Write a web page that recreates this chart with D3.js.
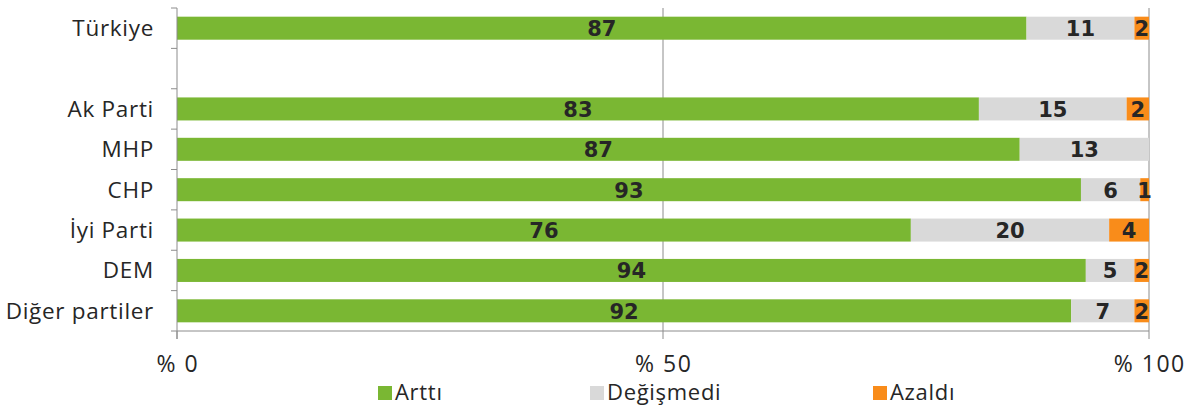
<!DOCTYPE html>
<html>
<head>
<meta charset="utf-8">
<script src="https://cdn.jsdelivr.net/npm/d3@7"></script>
<style>
  body { margin: 0; background: #fff; }
  svg { display: block; }
</style>
</head>
<body>
<div id="chart"></div>
<script>
// Chart data (percent). The empty category is the spacer row under Türkiye.
var categories = ["Türkiye", "", "Ak Parti", "MHP", "CHP", "İyi Parti", "DEM", "Diğer partiler"];
var artti      = [87.4, null, 82.5, 86.7, 93.0, 75.5, 93.5, 92.0];
var degismedi  = [11.1, null, 15.2, 13.3, 6.1, 20.4, 5.0, 6.5];
var azaldi     = [1.5, null, 2.3, 0, 0.9, 4.1, 1.5, 1.5];

var seriesNames = ["Arttı", "Değişmedi", "Azaldı"];
var seriesColors = ["#7ab733", "#d9d9d9", "#f98c1a"];
var xTicks = [0, 50, 100];

var width = 1204, height = 407;
var plot = { left: 177, right: 1149, top: 8, bottom: 331 };
var labelFont = "'Open Sans', sans-serif";

var svg = d3.select("#chart").append("svg")
    .attr("width", width)
    .attr("height", height);

var x = d3.scaleLinear().domain([0, 100]).range([plot.left, plot.right]);

var y = d3.scaleBand()
    .domain(categories.map(function (d, i) { return i; }))
    .range([plot.top, plot.bottom])
    .paddingInner(0.43)
    .paddingOuter(0.215);

// stack the three series per row
var rows = categories.map(function (c, i) {
    return { name: c, i: i, values: [artti[i], degismedi[i], azaldi[i]] };
});
var stack = d3.stack().keys([0, 1, 2]).value(function (d, k) { return d.values[k] || 0; });
var layers = stack(rows.filter(function (r) { return r.values[0] !== null; }));

// vertical gridlines behind bars
svg.append("g").selectAll("line")
    .data(xTicks.filter(function (t) { return t > 0; }))
    .enter().append("line")
    .attr("x1", function (d) { return x(d); })
    .attr("x2", function (d) { return x(d); })
    .attr("y1", plot.top)
    .attr("y2", plot.bottom)
    .attr("stroke", "#8c8c8c")
    .attr("stroke-width", 1);

// bars
var layer = svg.append("g").selectAll("g")
    .data(layers)
    .enter().append("g")
    .attr("fill", function (d, k) { return seriesColors[k]; });

layer.selectAll("rect")
    .data(function (d) { return d; })
    .enter().append("rect")
    .attr("x", function (d) { return x(d[0]); })
    .attr("y", function (d) { return y(d.data.i); })
    .attr("width", function (d) { return x(d[1]) - x(d[0]); })
    .attr("height", y.bandwidth());

// value labels
layer.selectAll("text")
    .data(function (d) { return d.filter(function (s) { return s[1] - s[0] > 0; }); })
    .enter().append("text")
    .attr("x", function (d) { return (x(d[0]) + x(d[1])) / 2; })
    .attr("y", function (d) { return y(d.data.i) + y.bandwidth() / 2 + 8; })
    .attr("text-anchor", "middle")
    .style("font-family", "'DejaVu Sans', sans-serif")
    .style("font-weight", "bold")
    .style("font-size", "21px")
    .style("fill", "#262626")
    .text(function (d) { return Math.round(d[1] - d[0]); });

// left axis: line plus ticks at the row boundaries
var axisColor = "#8c8c8c";
svg.append("line")
    .attr("x1", plot.left).attr("x2", plot.left)
    .attr("y1", plot.top).attr("y2", plot.bottom + 8)
    .attr("stroke", axisColor);

svg.append("g").selectAll("line")
    .data(d3.range(categories.length + 1))
    .enter().append("line")
    .attr("x1", plot.left - 6).attr("x2", plot.left)
    .attr("y1", function (i) { return plot.top + i * y.step(); })
    .attr("y2", function (i) { return plot.top + i * y.step(); })
    .attr("stroke", axisColor);

svg.append("g").selectAll("text")
    .data(rows)
    .enter().append("text")
    .attr("x", 154)
    .attr("y", function (d) { return y(d.i) + y.bandwidth() / 2 + 8; })
    .attr("text-anchor", "end")
    .style("font-family", labelFont)
    .style("font-size", "22.5px")
    .style("letter-spacing", "0.7px")
    .style("fill", "#262626")
    .text(function (d) { return d.name; });

// bottom axis
svg.append("line")
    .attr("x1", plot.left).attr("x2", plot.right)
    .attr("y1", plot.bottom).attr("y2", plot.bottom)
    .attr("stroke", axisColor);

svg.append("g").selectAll("line")
    .data(xTicks)
    .enter().append("line")
    .attr("x1", function (d) { return x(d); })
    .attr("x2", function (d) { return x(d); })
    .attr("y1", plot.bottom).attr("y2", plot.bottom + 8)
    .attr("stroke", axisColor);

svg.append("g").selectAll("text")
    .data(xTicks)
    .enter().append("text")
    .attr("x", function (d) { return x(d) + 0.75; })
    .attr("y", 372)
    .attr("text-anchor", "middle")
    .style("font-family", labelFont)
    .style("font-size", "23px")
    .style("letter-spacing", "1.5px")
    .style("fill", "#262626")
    .text(function (d) { return "% " + d; });

// legend
var legendX = [378, 590, 873];
var legend = svg.append("g").selectAll("g")
    .data(seriesNames)
    .enter().append("g")
    .attr("transform", function (d, k) { return "translate(" + legendX[k] + ",386)"; });

legend.append("rect")
    .attr("width", 14).attr("height", 14)
    .attr("fill", function (d, k) { return seriesColors[k]; });

legend.append("text")
    .attr("x", 17)
    .attr("y", 14)
    .style("font-family", labelFont)
    .style("font-size", "22px")
    .style("letter-spacing", "0.7px")
    .style("fill", "#262626")
    .text(function (d) { return d; });
</script>
</body>
</html>
